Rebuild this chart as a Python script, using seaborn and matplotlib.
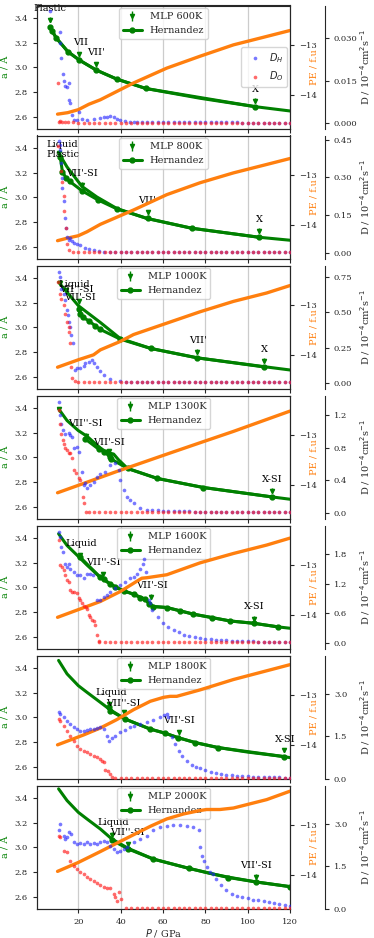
import matplotlib
matplotlib.use('Agg')
import matplotlib.pyplot as plt
import seaborn as sns
from matplotlib.ticker import FormatStrFormatter
from matplotlib.lines import Line2D

sns.set_style('ticks')
plt.rcParams['font.family'] = ['DejaVu Serif']
plt.rcParams['mathtext.fontset'] = 'dejavusans'
plt.rcParams['font.size'] = 7

GREEN = 'green'
ORANGE = '#ff7f0e'

# pressure grid of the long flat tails of the diffusion data
P_tail = [12.5, 15.0, 17.5, 20.0, 22.5, 25.0, 27.5, 30.0, 32.5, 35.0,
          37.5, 40.0, 42.5, 45.0, 47.5, 50.0, 52.5, 55.0, 57.5, 60.0,
          62.5, 65.0, 67.5, 70.0, 72.5, 75.0, 77.5, 80.0, 82.5, 85.0,
          87.5, 90.0, 92.5, 95.0, 97.5, 100.0, 102.5, 105.0, 107.5, 110.0,
          112.5, 115.0, 117.5, 120.0]

# ---------------- 600K ----------------
fit_P_600 = [6.5, 9.6, 15.1, 20.5, 28.5, 38.2, 51.9, 77.5, 103.5, 120]
fit_a_600 = [3.324, 3.237, 3.126, 3.058, 2.977, 2.904, 2.828, 2.749, 2.681, 2.646]
her_P_600 = [6.5, 7.6, 9.6, 15.1, 20.5, 28.5, 38.2, 51.9, 103.5]
her_a_600 = [3.324, 3.297, 3.237, 3.126, 3.058, 2.977, 2.904, 2.828, 2.681]
mlp_P_600 = [6.5, 20.5, 28.5, 103.5]
mlp_a_600 = [3.386, 3.107, 3.026, 2.727]
lab_600 = ['Plastic', 'VII', "VII'", 'X']
lab_P_600 = [6.8, 21.0, 28.3, 103.5]
lab_a_600 = [3.473, 3.197, 3.121, 2.817]
pe_P_600 = [10.2, 15, 20, 25, 30.4, 46.1, 61.8, 77.5, 93.3, 109, 120]
pe_600 = [-14.39, -14.36, -14.30, -14.19, -14.10, -13.76, -13.46, -13.22, -12.99, -12.82, -12.70]
dH_P_600 = [6.5, 11.2, 11.5, 12.0, 12.6, 13.1, 13.9, 14.7, 15.4, 15.8, 16.2, 17.0, 18.0, 19.4,
            20.5, 21.7, 24.1, 27.2, 30.4, 32.0, 33.5, 35.1, 36.7, 38.2, 39.8, 42.2, 44.5, 46.1]
dH_600 = [0.0396, 0.0321, 0.0282, 0.0229, 0.0174, 0.0149, 0.0132, 0.0127, 0.0143, 0.0082,
          0.0071, 0.0029, 0.0012, 0.0012, 0.0041, 0.0015, 0.0012, 0.0014, 0.0018, 0.0021,
          0.0024, 0.0025, 0.0021, 0.0016, 0.0012, 0.0008, 0.0006, 0.0005]
dH_tail_600 = [0.0004, 0.0004, 0.0004, 0.0003, 0.0003, 0.0003, 0.0003, 0.0003, 0.0003, 0.0003,
               0.0003, 0.0003, 0.0003, 0.0003, 0.0003, 0.0003, 0.0003, 0.0003, 0.0003, 0.0003,
               0.0002, 0.0002, 0.0002, 0.0002, 0.0002, 0.0002, 0.0002, 0.0002, 0.0002, 0.0002]
dO_P_600 = [10.2, 10.8, 11.5, 12.5, 13.5]
dO_600 = [0.0141, 0.0006, 0.0007, 0.0004, 0.0003]
dO_tail_600 = [0.0003, 0.0003, 0.0002, 0.0002, 0.0002, 0.0002, 0.0002, 0.0002, 0.0002, 0.0002,
               0.0002, 0.0002, 0.0002, 0.0002, 0.0002, 0.0002, 0.0002, 0.0002, 0.0002, 0.0002,
               0.0002, 0.0002, 0.0002, 0.0002, 0.0002, 0.0002, 0.0002, 0.0002, 0.0002, 0.0002,
               0.0002, 0.0002, 0.0002, 0.0002, 0.0002, 0.0002, 0.0002, 0.0002, 0.0002, 0.0002,
               0.0002, 0.0002, 0.0002]

# ---------------- 800K ----------------
fit_P_800 = [10.7, 14.7, 21.7, 28.8, 38.2, 52.4, 73.6, 105.4, 120]
fit_a_800 = [3.359, 3.245, 3.088, 3.002, 2.909, 2.828, 2.749, 2.676, 2.652]
her_P_800 = [11.5, 12.5, 14.3, 15.9, 21.7, 29.1, 38.5, 52.7, 73.6, 105.4]
her_a_800 = [3.324, 3.207, 3.153, 3.129, 3.053, 2.980, 2.904, 2.828, 2.749, 2.676]
mlp_P_800 = [11.0, 21.7, 52.7, 105.4]
mlp_a_800 = [3.36, 3.10, 2.877, 2.727]
lab_800 = ['Liquid', 'Plastic', "VII'-SI", "VII'", 'X']
lab_P_800 = [12.3, 12.8, 21.7, 52.5, 105.4]
lab_a_800 = [3.424, 3.343, 3.194, 2.971, 2.822]
pe_P_800 = [10.2, 14.7, 20, 24.1, 30.4, 46.1, 61.8, 77.5, 93.3, 109, 120]
pe_800 = [-14.32, -14.27, -14.22, -14.14, -13.99, -13.70, -13.39, -13.15, -12.95, -12.78, -12.66]
dH_P_800 = [10.7, 11.2, 11.5, 12.0, 12.3, 12.5, 13.1, 13.7, 14.2, 14.7, 15.4, 16.2, 17.0,
            17.8, 19.4, 20.9, 23.3, 24.9, 27.2, 29.6, 32.0]
dH_800 = [0.443, 0.430, 0.410, 0.357, 0.298, 0.258, 0.205, 0.139, 0.099, 0.064, 0.053, 0.058,
          0.046, 0.040, 0.034, 0.033, 0.021, 0.016, 0.011, 0.008, 0.005]
dH_tail_800 = [0.005, 0.005, 0.004, 0.004, 0.004, 0.004, 0.004, 0.004, 0.004, 0.004,
               0.004, 0.004, 0.004, 0.004, 0.004, 0.004, 0.004, 0.004, 0.004, 0.004,
               0.004, 0.004, 0.004, 0.004, 0.004, 0.004, 0.004, 0.004, 0.004, 0.004,
               0.004, 0.004, 0.004, 0.004, 0.004]
dO_P_800 = [10.6, 12.0, 12.5, 13.1, 13.4, 14.0, 14.7, 15.4]
dO_800 = [0.424, 0.324, 0.281, 0.225, 0.168, 0.099, 0.036, 0.011]
dO_tail_800 = [0.004, 0.004, 0.003, 0.003, 0.003, 0.003, 0.003, 0.003, 0.003, 0.003,
               0.003, 0.003, 0.003, 0.003, 0.003, 0.003, 0.003, 0.003, 0.003, 0.003,
               0.003, 0.003, 0.003, 0.003, 0.003, 0.003, 0.003, 0.003, 0.003, 0.003,
               0.003, 0.003, 0.003, 0.003, 0.003, 0.003, 0.003, 0.003, 0.003, 0.003,
               0.003, 0.003]

# ---------------- 1000K ----------------
fit_P_1000 = [10.7, 14.7, 20, 24.1, 30.4, 39.8, 54.3, 76.3, 107.7, 120]
fit_a_1000 = [3.365, 3.283, 3.175, 3.121, 3.039, 2.909, 2.828, 2.752, 2.681, 2.654]
her_P_1000 = [20.2, 20.9, 22.2, 24.9, 28.0, 30.1, 39.8, 54.3, 76.3, 107.7]
her_a_1000 = [3.148, 3.107, 3.080, 3.053, 3.012, 2.985, 2.904, 2.828, 2.752, 2.679]
mlp_P_1000 = [11.2, 14.0, 20.2, 76.3, 107.7]
mlp_a_1000 = [3.36, 3.30, 3.21, 2.80, 2.727]
lab_1000 = ['Liquid', "VII''-SI", "VII'-SI", "VII'", 'X']
lab_P_1000 = [18.3, 19.1, 20.9, 76.3, 107.7]
lab_a_1000 = [3.343, 3.302, 3.243, 2.896, 2.822]
pe_P_1000 = [10.2, 20, 27.2, 30.4, 39.8, 46.1, 61.8, 77.5, 93.3, 109, 120]
pe_1000 = [-14.25, -14.10, -14.00, -13.90, -13.73, -13.59, -13.36, -13.13, -12.92, -12.75, -12.60]
dH_P_1000 = [10.7, 11.2, 12.0, 13.1, 13.9, 14.7, 15.1, 15.8, 16.2, 16.7, 17.5, 18.6, 19.4,
             20.9, 22.5, 23.3, 24.9, 26.4, 27.2, 28.8, 30.4, 32.0, 35.1, 39.8]
dH_1000 = [0.785, 0.750, 0.668, 0.633, 0.586, 0.520, 0.481, 0.434, 0.398, 0.340, 0.281, 0.094,
           0.105, 0.105, 0.122, 0.141, 0.152, 0.164, 0.141, 0.117, 0.082, 0.059, 0.028, 0.012]
dH_tail_1000 = [0.009, 0.008, 0.008, 0.007, 0.007, 0.007, 0.007, 0.007, 0.007, 0.007,
                0.006, 0.006, 0.006, 0.006, 0.006, 0.006, 0.006, 0.006, 0.006, 0.006,
                0.006, 0.006, 0.006, 0.006, 0.006, 0.006, 0.006, 0.006, 0.006, 0.006,
                0.006, 0.006]
dO_P_1000 = [10.2, 11.2, 12.0, 13.1, 13.9, 14.7, 15.4, 15.8, 16.2, 16.6, 17.0, 18.6]
dO_1000 = [0.715, 0.633, 0.598, 0.551, 0.492, 0.434, 0.398, 0.363, 0.281, 0.117, 0.035, 0.012]
dO_tail_1000 = [0.006, 0.005, 0.005, 0.005, 0.005, 0.005, 0.005, 0.005, 0.005, 0.005,
                0.005, 0.005, 0.005, 0.005, 0.005, 0.005, 0.005, 0.005, 0.005, 0.005,
                0.005, 0.005, 0.005, 0.005, 0.005, 0.005, 0.005, 0.005, 0.005, 0.005,
                0.005, 0.005, 0.005, 0.005, 0.005, 0.005, 0.005, 0.005, 0.005, 0.005,
                0.005]

# ---------------- 1300K ----------------
fit_P_1300 = [10.7, 14.7, 20, 24.1, 30.4, 33.5, 36.7, 39.0, 43.3, 57.4, 79.1, 111.4, 120]
fit_a_1300 = [3.392, 3.297, 3.216, 3.170, 3.075, 3.039, 3.026, 2.980, 2.909, 2.828, 2.755, 2.679, 2.660]
her_P_1300 = [23.3, 29.6, 32.0, 33.5, 34.3, 35.1, 35.6, 43.3, 57.4, 79.1, 111.4]
her_a_1300 = [3.148, 3.066, 3.045, 3.039, 3.026, 2.999, 2.985, 2.909, 2.828, 2.755, 2.679]
mlp_P_1300 = [10.7, 23.8, 34.3, 111.4]
mlp_a_1300 = [3.39, 3.175, 3.05, 2.727]
lab_1300 = ["VII''-SI", "VII'-SI", 'X-SI']
lab_P_1300 = [23.3, 34.5, 111.4]
lab_a_1300 = [3.270, 3.121, 2.822]
pe_P_1300 = [10.2, 20, 38.2, 61.8, 77.5, 93.3, 120]
pe_1300 = [-14.16, -14.01, -13.73, -13.38, -13.15, -12.92, -12.51]
dH_P_1300 = [10.7, 11.5, 12.0, 12.8, 13.9, 15.4, 16.2, 17.0, 17.8, 19.4, 20.2, 21.7, 22.5,
             23.3, 24.1, 25.7, 27.2, 28.8, 30.4, 32.7, 35.1, 37.5, 39.0, 39.8, 41.4, 43.0,
             44.5, 46.1, 49.2, 52.4]
dH_1300 = [1.363, 1.200, 1.098, 1.017, 0.976, 0.984, 0.956, 0.936, 0.793, 0.814, 0.753, 0.509,
           0.346, 0.366, 0.305, 0.346, 0.386, 0.447, 0.480, 0.509, 0.590, 0.618, 0.529, 0.407,
           0.285, 0.203, 0.155, 0.122, 0.061, 0.041]
dH_tail_1300 = [0.035, 0.032, 0.030, 0.028, 0.026, 0.024, 0.022, 0.020, 0.019, 0.018,
                0.017, 0.016, 0.015, 0.014, 0.013, 0.013, 0.012, 0.012, 0.011, 0.011,
                0.010, 0.010, 0.009, 0.009, 0.009, 0.008, 0.008]
dO_P_1300 = [10.7, 11.5, 12.0, 12.6, 13.1, 13.9, 14.7, 15.4, 16.2, 17.0, 18.1, 19.1, 20.2,
             20.9, 22.2, 22.8, 23.8]
dO_1300 = [1.261, 1.098, 0.976, 0.895, 0.854, 0.793, 0.773, 0.732, 0.732, 0.671, 0.529, 0.488,
           0.427, 0.407, 0.203, 0.122, 0.016]
dO_tail_1300 = [0.008, 0.008, 0.008, 0.008, 0.008, 0.008, 0.008, 0.008, 0.008, 0.008,
                0.008, 0.008, 0.008, 0.008, 0.008, 0.008, 0.008, 0.008, 0.008, 0.008,
                0.008, 0.008, 0.008, 0.008, 0.008, 0.008, 0.008, 0.008, 0.008, 0.008,
                0.008, 0.008, 0.008, 0.008, 0.008, 0.008, 0.008, 0.008, 0.008]

# ---------------- 1600K ----------------
fit_P_1600 = [10.7, 14.7, 20, 24.1, 30.4, 35.1, 41.4, 46.1, 51.6, 53.6, 55.5, 61.8, 74.4, 91.7,
              103, 114.4, 120]
fit_a_1600 = [3.433, 3.338, 3.250, 3.180, 3.080, 3.026, 2.971, 2.944, 2.904, 2.863, 2.844, 2.836,
              2.782, 2.727, 2.708, 2.679, 2.668]
her_P_1600 = [20.9, 30.4, 32.0, 35.1, 37.5, 41.4, 46.1, 49.2, 51.6, 53.6, 55.5, 61.8, 68.1,
              74.4, 83.0, 91.7, 103, 114.4]
her_a_1600 = [3.243, 3.080, 3.066, 3.026, 2.999, 2.971, 2.944, 2.917, 2.904, 2.863, 2.844, 2.836,
              2.809, 2.782, 2.755, 2.727, 2.708, 2.679]
mlp_P_1600 = [20.9, 31.6, 54.3, 103]
mlp_a_1600 = [3.26, 3.107, 2.925, 2.746]
lab_1600 = ['Liquid', "VII''-SI", "VII'-SI", 'X-SI']
lab_P_1600 = [21.3, 32.0, 54.6, 103]
lab_a_1600 = [3.351, 3.197, 3.012, 2.844]
pe_P_1600 = [10.2, 30.4, 39.8, 47.7, 50.0, 52.4, 61.8, 77.5, 93.3, 109, 120]
pe_1600 = [-14.05, -13.73, -13.53, -13.32, -13.26, -13.25, -13.19, -12.95, -12.76, -12.59, -12.45]
dH_P_1600 = [10.7, 11.5, 12.0, 12.6, 13.9, 14.7, 15.4, 16.2, 17.8, 19.4, 20.9, 22.5, 24.1,
             25.7, 26.9, 28.8, 30.4, 32.0, 33.5, 35.1, 37.5, 39.8, 42.2, 44.5, 46.1, 47.7,
             49.2, 50.5, 51.1, 52.1, 53.2, 54.0]
dH_1600 = [2.250, 2.149, 1.948, 1.847, 1.612, 1.545, 1.612, 1.511, 1.444, 1.377, 1.377, 1.310,
           1.410, 1.410, 1.377, 0.873, 0.873, 0.927, 0.974, 1.041, 1.108, 1.175, 1.242, 1.310,
           1.343, 1.410, 1.511, 1.612, 1.713, 1.444, 0.873, 0.806]
dH_tail_1600 = [0.66, 0.52, 0.41, 0.32, 0.27, 0.22, 0.165, 0.14, 0.118, 0.10,
                0.085, 0.076, 0.068, 0.061, 0.055, 0.050, 0.045, 0.040, 0.036, 0.033,
                0.030, 0.028, 0.026, 0.024, 0.022, 0.021, 0.020]
dO_P_1600 = [10.7, 11.5, 12.3, 13.1, 13.9, 14.7, 15.4, 16.2, 17.0, 18.1, 19.4, 20.2, 20.9,
             21.7, 22.5, 23.5, 24.1, 24.9, 25.7, 26.4, 27.2, 28.0, 28.8, 29.6]
dO_1600 = [2.082, 1.578, 1.545, 1.478, 1.377, 1.276, 1.242, 1.075, 1.041, 1.041, 1.021, 0.907,
           0.873, 0.806, 0.752, 0.725, 0.685, 0.571, 0.537, 0.470, 0.437, 0.369, 0.168, 0.034]
dO_tail_1600 = [0.013, 0.013, 0.013, 0.013, 0.013, 0.013, 0.013, 0.013, 0.013, 0.013,
                0.013, 0.013, 0.013, 0.013, 0.013, 0.013, 0.013, 0.013, 0.013, 0.013,
                0.013, 0.013, 0.013, 0.013, 0.013, 0.013, 0.013, 0.013, 0.013, 0.013,
                0.013, 0.013, 0.013, 0.013, 0.013, 0.013, 0.013]

# ---------------- 1800K ----------------
fit_P_1800 = [10.7, 14.7, 20, 24.1, 30.4, 35.1, 42.2, 54.0, 61.0, 66.9, 75.2, 85.9, 100,
              117.3, 120]
fit_a_1800 = [3.46, 3.351, 3.256, 3.202, 3.121, 3.060, 2.985, 2.904, 2.871, 2.836, 2.795, 2.755,
              2.718, 2.681, 2.673]
her_P_1800 = [34.3, 35.1, 42.2, 54.0, 61.0, 66.9, 75.2, 85.9, 117.3]
her_a_1800 = [3.080, 3.053, 2.985, 2.904, 2.871, 2.836, 2.795, 2.755, 2.681]
mlp_P_1800 = [34.3, 41.4, 67.4, 117.3]
mlp_a_1800 = [3.107, 3.04, 2.877, 2.735]
lab_1800 = ['Liquid', "VII''-SI", "VII'-SI", 'X-SI']
lab_P_1800 = [35.7, 41.5, 67.5, 117.6]
lab_a_1800 = [3.202, 3.113, 2.971, 2.822]
pe_P_1800 = [10.2, 22.5, 30.4, 38.2, 46.1, 54.0, 60.3, 63.4, 66.5, 77.5, 93.3, 120]
pe_1800 = [-14.0, -13.80, -13.66, -13.49, -13.29, -13.12, -13.04, -13.02, -13.02, -12.89, -12.68, -12.38]
dH_P_1800 = [10.7, 11.5, 13.1, 14.7, 16.2, 17.8, 19.4, 20.9, 22.5, 24.1, 25.7, 27.2, 28.8,
             30.4, 32.0, 33.5, 34.3, 35.9, 37.5, 39.8, 42.2, 44.5, 46.1, 49.2, 52.4, 55.5,
             58.7, 60.3, 61.8, 62.6, 64.2, 65.8, 67.4, 69.0, 71.3, 73.6, 75.5]
dH_1800 = [2.353, 2.294, 2.176, 2.059, 1.941, 1.824, 1.765, 1.706, 1.706, 1.729, 1.753, 1.765,
           1.800, 1.824, 1.765, 1.529, 1.353, 1.447, 1.529, 1.647, 1.729, 1.824, 1.882, 1.941,
           2.0, 2.082, 2.176, 2.271, 2.294, 2.176, 1.471, 1.235, 1.0, 0.824, 0.647, 0.506, 0.43]
dH_tail_1800 = [0.37, 0.31, 0.26, 0.21, 0.18, 0.15, 0.13, 0.11, 0.10, 0.09,
                0.082, 0.075, 0.070, 0.064, 0.059, 0.055, 0.050, 0.047]
dO_P_1800 = [10.7, 11.5, 13.1, 14.7, 16.2, 17.8, 19.4, 20.9, 22.5, 24.1, 25.7, 27.2, 28.8,
             30.4, 31.2, 32.0, 32.8, 33.9, 35.1, 35.9]
dO_1800 = [2.118, 2.059, 1.882, 1.706, 1.529, 1.353, 1.176, 1.059, 1.0, 0.941, 0.882, 0.824,
           0.765, 0.706, 0.647, 0.588, 0.318, 0.294, 0.176, 0.059]
dO_tail_1800 = [0.024, 0.024, 0.024, 0.024, 0.024, 0.024, 0.024, 0.024, 0.024, 0.024,
                0.024, 0.024, 0.024, 0.024, 0.024, 0.024, 0.024, 0.024, 0.024, 0.024,
                0.024, 0.024, 0.024, 0.024, 0.024, 0.024, 0.024, 0.024, 0.024, 0.024,
                0.024, 0.024, 0.024, 0.024]

# ---------------- 2000K ----------------
fit_P_2000 = [10.7, 14.7, 20, 24.1, 30.4, 35.9, 43.7, 55.5, 72.5, 83.8, 90.9, 104, 120]
fit_a_2000 = [3.473, 3.378, 3.283, 3.229, 3.148, 3.066, 2.990, 2.904, 2.828, 2.782, 2.758, 2.719, 2.681]
her_P_2000 = [35.9, 43.7, 55.5, 72.5, 90.9, 104, 120]
her_a_2000 = [3.058, 2.985, 2.904, 2.828, 2.755, 2.719, 2.681]
mlp_P_2000 = [35.9, 43.4, 104]
mlp_a_2000 = [3.10, 3.026, 2.763]
lab_2000 = ['Liquid', "VII''-SI", "VII'-SI"]
lab_P_2000 = [36.4, 43.3, 104]
lab_a_2000 = [3.202, 3.121, 2.855]
pe_P_2000 = [10.2, 20, 30.4, 38.2, 46.1, 54.0, 61.8, 69.7, 77.5, 80.6, 86.9, 93.3, 109, 120]
pe_2000 = [-13.93, -13.75, -13.53, -13.36, -13.19, -13.02, -12.87, -12.77, -12.70, -12.68, -12.68,
           -12.65, -12.48, -12.31]
dH_P_2000 = [10.7, 11.5, 13.1, 13.9, 14.7, 15.4, 16.6, 17.8, 19.4, 20.9, 22.5, 24.1, 25.7,
             27.2, 28.8, 30.4, 32.0, 33.5, 35.1, 36.7, 38.2, 39.8, 41.4, 43.0, 46.1, 49.2,
             52.4, 55.5, 58.7, 61.8, 64.9, 68.1, 71.2, 74.4, 76.8, 77.5, 78.3, 79.4, 80.7,
             82.3, 83.8]
dH_2000 = [2.765, 3.0, 2.588, 2.471, 2.529, 2.706, 2.647, 2.353, 2.294, 2.318, 2.294, 2.353,
           2.294, 2.318, 2.294, 2.353, 2.412, 2.353, 2.235, 2.118, 2.0, 2.059, 2.118, 2.176,
           2.353, 2.471, 2.588, 2.765, 2.882, 2.906, 2.976, 2.976, 2.941, 2.882, 2.788, 2.176,
           1.882, 1.706, 1.471, 1.294, 1.235]
dH_tail_2000 = [1.05, 0.84, 0.66, 0.54, 0.47, 0.42, 0.38, 0.32, 0.30, 0.28,
                0.26, 0.21, 0.18, 0.15, 0.12]
dO_P_2000 = [10.7, 11.5, 13.1, 14.7, 16.2, 17.8, 19.4, 20.9, 22.5, 24.1, 25.7, 27.2, 28.8,
             30.4, 32.0, 33.5, 35.1, 36.7, 37.5, 38.2, 39.0, 40.2]
dO_2000 = [2.588, 2.529, 2.059, 2.0, 1.706, 1.529, 1.412, 1.294, 1.235, 1.118, 1.059, 1.0,
           0.906, 0.859, 0.788, 0.741, 0.741, 0.529, 0.412, 0.294, 0.588, 0.353]
dO_tail_2000 = [0.024, 0.024, 0.024, 0.024, 0.024, 0.024, 0.024, 0.024, 0.024, 0.024,
                0.024, 0.024, 0.024, 0.024, 0.024, 0.024, 0.024, 0.024, 0.024, 0.024,
                0.024, 0.024, 0.024, 0.024, 0.024, 0.024, 0.024, 0.024, 0.024, 0.024,
                0.024, 0.024]

# D axis ranges and ticks per panel
d_lim = [(-0.002, 0.0415), (-0.024, 0.466), (-0.042, 0.832), (-0.073, 1.444),
         (-0.121, 2.384), (0.0, 4.35), (0.0, 4.35)]
d_ticks = [[0, 0.015, 0.030], [0, 0.15, 0.30, 0.45], [0, 0.25, 0.50, 0.75],
           [0, 0.4, 0.8, 1.2], [0, 0.6, 1.2, 1.8], [0, 1.5, 3.0], [0, 1.5, 3.0]]
d_fmt = ['%.3f', '%.2f', '%.2f', '%.1f', '%.1f', '%.1f', '%.1f']

panels = [
    dict(T='600K', fit=(fit_P_600, fit_a_600), her=(her_P_600, her_a_600), mlp=(mlp_P_600, mlp_a_600),
         lab=(lab_600, lab_P_600, lab_a_600), pe=(pe_P_600, pe_600),
         dH=(dH_P_600, dH_600, dH_tail_600), dO=(dO_P_600, dO_600, dO_tail_600)),
    dict(T='800K', fit=(fit_P_800, fit_a_800), her=(her_P_800, her_a_800), mlp=(mlp_P_800, mlp_a_800),
         lab=(lab_800, lab_P_800, lab_a_800), pe=(pe_P_800, pe_800),
         dH=(dH_P_800, dH_800, dH_tail_800), dO=(dO_P_800, dO_800, dO_tail_800)),
    dict(T='1000K', fit=(fit_P_1000, fit_a_1000), her=(her_P_1000, her_a_1000), mlp=(mlp_P_1000, mlp_a_1000),
         lab=(lab_1000, lab_P_1000, lab_a_1000), pe=(pe_P_1000, pe_1000),
         dH=(dH_P_1000, dH_1000, dH_tail_1000), dO=(dO_P_1000, dO_1000, dO_tail_1000)),
    dict(T='1300K', fit=(fit_P_1300, fit_a_1300), her=(her_P_1300, her_a_1300), mlp=(mlp_P_1300, mlp_a_1300),
         lab=(lab_1300, lab_P_1300, lab_a_1300), pe=(pe_P_1300, pe_1300),
         dH=(dH_P_1300, dH_1300, dH_tail_1300), dO=(dO_P_1300, dO_1300, dO_tail_1300)),
    dict(T='1600K', fit=(fit_P_1600, fit_a_1600), her=(her_P_1600, her_a_1600), mlp=(mlp_P_1600, mlp_a_1600),
         lab=(lab_1600, lab_P_1600, lab_a_1600), pe=(pe_P_1600, pe_1600),
         dH=(dH_P_1600, dH_1600, dH_tail_1600), dO=(dO_P_1600, dO_1600, dO_tail_1600)),
    dict(T='1800K', fit=(fit_P_1800, fit_a_1800), her=(her_P_1800, her_a_1800), mlp=(mlp_P_1800, mlp_a_1800),
         lab=(lab_1800, lab_P_1800, lab_a_1800), pe=(pe_P_1800, pe_1800),
         dH=(dH_P_1800, dH_1800, dH_tail_1800), dO=(dO_P_1800, dO_1800, dO_tail_1800)),
    dict(T='2000K', fit=(fit_P_2000, fit_a_2000), her=(her_P_2000, her_a_2000), mlp=(mlp_P_2000, mlp_a_2000),
         lab=(lab_2000, lab_P_2000, lab_a_2000), pe=(pe_P_2000, pe_2000),
         dH=(dH_P_2000, dH_2000, dH_tail_2000), dO=(dO_P_2000, dO_2000, dO_tail_2000)),
]


def with_tail(P, D, tail):
    return list(P) + P_tail[len(P_tail) - len(tail):], list(D) + list(tail)


fig = plt.figure(figsize=(3.74, 9.38), dpi=100)
W, H = 374.0, 938.0
left, right = 37.0, 290.0

for i, pan in enumerate(panels):
    top = 5.5 + 130 * i
    ax = fig.add_axes([left / W, 1 - (top + 123.5) / H, (right - left) / W, 123.5 / H])
    ax.set_xlim(0.5, 120)
    ax.set_ylim(2.5, 3.5)
    ax.set_xticks([20, 40, 60, 80, 100, 120])
    ax.set_yticks([2.6, 2.8, 3.0, 3.2, 3.4])
    ax.yaxis.set_major_formatter(FormatStrFormatter('%.1f'))
    ax.grid(axis='x', color='0.8', lw=0.9)
    ax.tick_params(labelsize=6, length=3)

    ax.plot(*pan['fit'], color=GREEN, lw=2.2)
    ax.plot(*pan['her'], '-o', color=GREEN, lw=2.2, ms=3.5)
    ax.errorbar(*pan['mlp'], yerr=0.02, fmt='v', color=GREEN, ms=3, elinewidth=1, capsize=0)
    for txt, px, py in zip(*pan['lab']):
        ax.text(px, py, txt, ha='center', va='center', fontsize=7, color='black')

    ax.set_ylabel('a / Å', color=GREEN, fontsize=7)
    ax.yaxis.set_label_coords(-0.103, 0.5)
    handles = [ax.errorbar([], [], yerr=[], fmt='v', color=GREEN, ms=3, elinewidth=1),
               Line2D([], [], color=GREEN, marker='o', ms=3.5, lw=2.2)]
    ax.legend(handles, ['MLP ' + pan['T'], 'Hernandez'], loc='upper center', fontsize=7,
              borderaxespad=0.3)

    if i == len(panels) - 1:
        ax.set_xlabel('$P$ / GPa', fontsize=7, labelpad=1)
    else:
        ax.tick_params(labelbottom=False)

    ax2 = ax.twinx()
    sns.lineplot(x=pan['pe'][0], y=pan['pe'][1], ax=ax2, color=ORANGE, lw=2.4,
                 sort=False, estimator=None)
    ax2.set_ylim(-14.69, -12.195)
    ax2.set_yticks([-14, -13])
    ax2.tick_params(labelsize=6, length=3)
    ax2.set_ylabel('PE / f.u', color=ORANGE, fontsize=7)
    ax2.yaxis.set_label_coords(1.079, 0.5)

    ax3 = ax.twinx()
    for s in ['left', 'top', 'bottom']:
        ax3.spines[s].set_visible(False)
    ax3.spines['right'].set_position(('axes', 1.138))
    PH, DH = with_tail(*pan['dH'])
    PO, DO = with_tail(*pan['dO'])
    sns.scatterplot(x=PH, y=DH, ax=ax3, color='#1f1fff', alpha=0.6, s=7, linewidth=0,
                    label='$D_H$')
    sns.scatterplot(x=PO, y=DO, ax=ax3, color='#ff1a1a', alpha=0.65, s=7, linewidth=0,
                    label='$D_O$')
    ax3.set_ylim(*d_lim[i])
    ax3.set_yticks(d_ticks[i])
    ax3.yaxis.set_major_formatter(FormatStrFormatter(d_fmt[i]))
    ax3.tick_params(labelsize=6, length=3)
    ax3.set_ylabel('D / 10$^{-4}$cm$^{2}$s$^{-1}$', fontsize=7)
    ax3.yaxis.set_label_coords(1.27, 0.5)
    if i == 0:
        ax3.legend(loc='center right', fontsize=7, handletextpad=0.4, borderaxespad=0.3)
    else:
        ax3.get_legend().remove()

fig.savefig('out.png', dpi=100)
